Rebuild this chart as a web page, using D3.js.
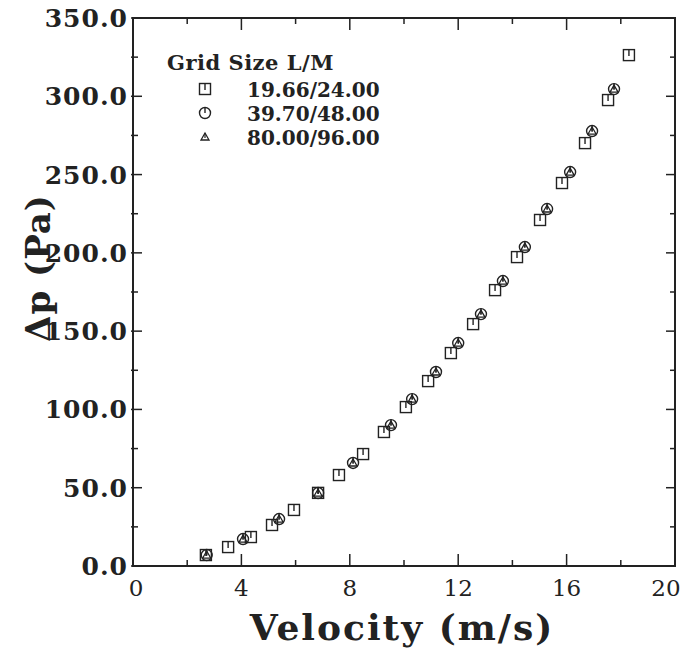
<!DOCTYPE html>
<html>
<head>
<meta charset="utf-8">
<script src="https://cdn.jsdelivr.net/npm/d3@7"></script>
<style>
  body { margin: 0; background: #fff; }
  text { font-family: "DejaVu Serif", serif; fill: #222; }
</style>
</head>
<body>
<svg width="688" height="650"></svg>
<script>
// Grid 19.66/24.00 (squares)
const sqVel = [2.69, 3.51, 4.35, 5.13, 5.94, 6.83, 7.6, 8.49, 9.26, 10.07, 10.89, 11.73, 12.55, 13.36, 14.17, 15.02, 15.83, 16.68, 17.53, 18.3];
const sqDp  = [7.0, 12.1, 18.5, 26.2, 35.8, 46.7, 58.1, 71.5, 85.6, 101.5, 118.1, 136, 154.5, 176.2, 197.3, 221, 244.6, 270.1, 297.6, 326.3];
// Grid 39.70/48.00 (circles)
const ciVel = [2.72, 4.06, 5.39, 6.83, 8.12, 9.52, 10.3, 11.18, 12.0, 12.84, 13.65, 14.46, 15.28, 16.13, 16.94, 17.75];
const ciDp  = [7.0, 17.2, 30, 46.6, 65.8, 90, 106.6, 123.9, 142.4, 160.9, 182, 203.7, 228, 251.6, 277.8, 304.6];
// Grid 80.00/96.00 (triangles)
const trVel = [2.72, 4.06, 5.39, 6.83, 8.12, 9.52, 10.3, 11.18, 12.0, 12.84, 13.65, 14.46, 15.28, 16.13, 16.94, 17.75];
const trDp  = [7.0, 17.2, 30, 46.6, 65.8, 90, 106.6, 123.9, 142.4, 160.9, 182, 203.7, 228, 251.6, 277.8, 304.6];

const xTicks = [0, 4, 8, 12, 16, 20];
const yTicks = [0, 50, 100, 150, 200, 250, 300, 350];
const legendLabels = ["19.66/24.00", "39.70/48.00", "80.00/96.00"];

const svg = d3.select("svg");
const margin = { top: 18, right: 13, bottom: 84, left: 133 };
const width = +svg.attr("width") - margin.left - margin.right;
const height = +svg.attr("height") - margin.top - margin.bottom;
const g = svg.append("g").attr("transform", `translate(${margin.left},${margin.top})`);

const x = d3.scaleLinear().domain([0, 20]).range([0, width]);
const y = d3.scaleLinear().domain([0, 350]).range([height, 0]);

const ink = "#222";

// frame
g.append("rect")
  .attr("width", width).attr("height", height)
  .attr("fill", "none").attr("stroke", ink).attr("stroke-width", 2);

// ticks on all four sides, pointing inward
const xMinor = d3.range(2, 20, 4);
const yMinor = d3.range(25, 350, 50);
function xTickMarks(vals, len) {
  for (const v of vals) {
    g.append("line").attr("x1", x(v)).attr("x2", x(v)).attr("y1", height).attr("y2", height - len).attr("stroke", ink).attr("stroke-width", 1.5);
    g.append("line").attr("x1", x(v)).attr("x2", x(v)).attr("y1", 0).attr("y2", len).attr("stroke", ink).attr("stroke-width", 1.5);
  }
}
function yTickMarks(vals, len) {
  for (const v of vals) {
    g.append("line").attr("x1", -2).attr("x2", len).attr("y1", y(v)).attr("y2", y(v)).attr("stroke", ink).attr("stroke-width", 1.5);
    g.append("line").attr("x1", width - len).attr("x2", width).attr("y1", y(v)).attr("y2", y(v)).attr("stroke", ink).attr("stroke-width", 1.5);
  }
}
xTickMarks(xTicks, 12);
xTickMarks(xMinor, 6);
yTickMarks(yTicks, 9);
yTickMarks(yMinor, 5);

// tick labels (the last one nudged in so it stays on the page)
g.selectAll(".xl").data(xTicks).enter().append("text")
  .attr("x", d => x(d) + (d === 0 ? 3 : d === 20 ? -9 : 0)).attr("y", height + 30)
  .attr("text-anchor", "middle")
  .attr("font-size", "23px")
  .text(d => d);

g.selectAll(".yl").data(yTicks).enter().append("text")
  .attr("x", -5).attr("y", d => y(d) + 9)
  .attr("text-anchor", "end")
  .attr("font-size", "25px").attr("font-weight", "bold")
  .attr("letter-spacing", "1px")
  .text(d => d.toFixed(1));

// axis titles
svg.append("text")
  .attr("x", margin.left + width / 2 - 2).attr("y", 640)
  .attr("text-anchor", "middle")
  .attr("font-size", "36px").attr("font-weight", "bold")
  .attr("letter-spacing", "2px")
  .text("Velocity (m/s)");

svg.append("text")
  .attr("transform", "translate(50,268) rotate(-90)")
  .attr("text-anchor", "middle")
  .attr("font-size", "34px").attr("font-weight", "bold")
  .attr("letter-spacing", "1px")
  .text("Δp (Pa)");

// markers
function square(sel, cx, cy) {
  sel.append("rect").attr("x", cx - 5.5).attr("y", cy - 5.5).attr("width", 11).attr("height", 11)
    .attr("fill", "none").attr("stroke", ink).attr("stroke-width", 1.4);
  sel.append("line").attr("x1", cx).attr("x2", cx).attr("y1", cy - 5.5).attr("y2", cy + 1)
    .attr("stroke", ink).attr("stroke-width", 1.4);
}
function circle(sel, cx, cy) {
  sel.append("circle").attr("cx", cx).attr("cy", cy).attr("r", 5.5)
    .attr("fill", "none").attr("stroke", ink).attr("stroke-width", 1.4);
  sel.append("line").attr("x1", cx).attr("x2", cx).attr("y1", cy - 5.5).attr("y2", cy)
    .attr("stroke", ink).attr("stroke-width", 1.4);
}
function triangle(sel, cx, cy) {
  sel.append("path").attr("d", `M${cx},${cy - 4}L${cx + 4},${cy + 3}L${cx - 4},${cy + 3}Z`)
    .attr("fill", "none").attr("stroke", ink).attr("stroke-width", 1.3);
  sel.append("line").attr("x1", cx).attr("x2", cx).attr("y1", cy - 4).attr("y2", cy + 1)
    .attr("stroke", ink).attr("stroke-width", 1.2);
}

const pts = g.append("g");
sqVel.forEach((v, i) => square(pts, x(v), y(sqDp[i])));
ciVel.forEach((v, i) => circle(pts, x(v), y(ciDp[i])));
trVel.forEach((v, i) => triangle(pts, x(v), y(trDp[i])));

// legend
const lg = svg.append("g");
lg.append("text").attr("x", 167).attr("y", 70)
  .attr("font-size", "21px").attr("font-weight", "bold")
  .attr("letter-spacing", "0.5px")
  .text("Grid Size L/M");
const markerFns = [square, circle, triangle];
legendLabels.forEach((lab, i) => {
  const ly = 89 + i * 24;
  markerFns[i](lg, 205, ly);
  lg.append("text").attr("x", 247).attr("y", ly + 8)
    .attr("font-size", "20px").attr("font-weight", "bold")
    .text(lab);
});
</script>
</body>
</html>
